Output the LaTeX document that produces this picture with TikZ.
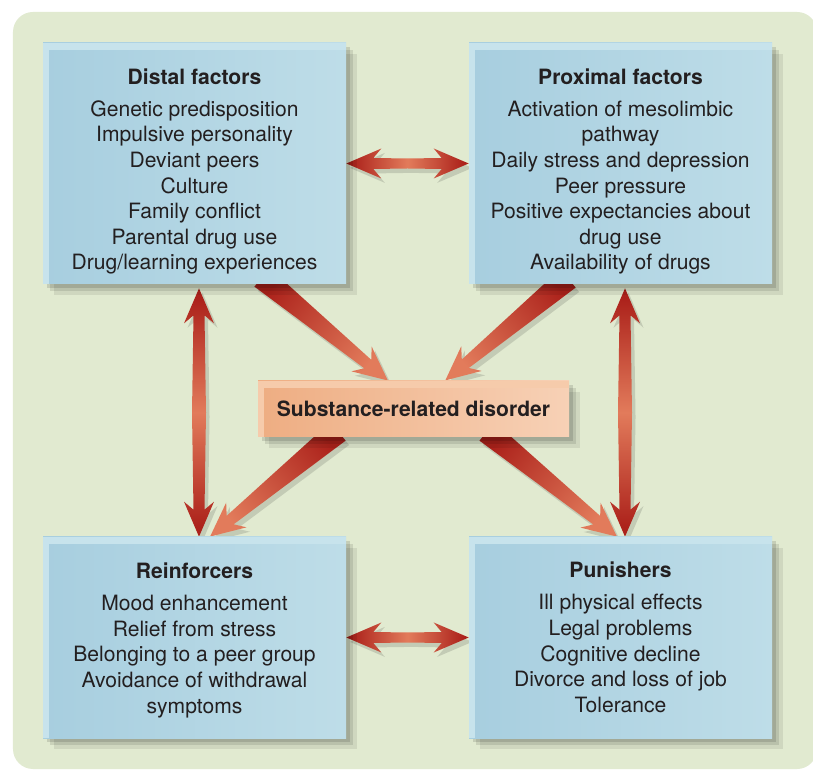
\documentclass[tikz,border=0pt]{standalone}
\usepackage{fontspec}
\setmainfont{TeX Gyre Heros}
\usepackage{tikz}
\usetikzlibrary{calc, shadows}

\definecolor{panelgreen}{HTML}{E1EAD0}
\definecolor{boxleft}{HTML}{A7CEDF}
\definecolor{boxright}{HTML}{BEDDE8}
\definecolor{boxrim}{HTML}{C7E3EC}
\definecolor{hubleft}{HTML}{EEAD82}
\definecolor{hubright}{HTML}{F7D1B6}
\definecolor{hubrim}{HTML}{F6CBAB}
\definecolor{arrdark}{HTML}{AC221B}
\definecolor{arrlight}{HTML}{E27B5B}
\definecolor{inkgray}{HTML}{231F20}

\pgfdeclarehorizontalshading{twoway}{100bp}{color(0bp)=(arrdark); color(27bp)=(arrdark); color(50bp)=(arrlight); color(73bp)=(arrdark); color(100bp)=(arrdark)}
\pgfdeclarehorizontalshading{oneway}{100bp}{color(0bp)=(arrdark); color(25bp)=(arrdark); color(75bp)=(arrlight); color(100bp)=(arrlight)}

\pgfdeclarelayer{backdrop}
\pgfdeclarelayer{background}
\pgfsetlayers{backdrop,background,main}

% angle, length (in 0.02cm units) and start point of a fat arrow
\newcommand{\measurearrow}[2]{%
  \path let \p1=(#1), \p2=(#2) in \pgfextra{%
    \pgfmathsetmacro{\tmpang}{atan2(\y2-\y1,\x2-\x1)}%
    \pgfmathsetmacro{\tmplen}{veclen(\x2-\x1,\y2-\y1)/0.569055}%
    \xdef\arrang{\tmpang}\xdef\arrlen{\tmplen}%
    \xdef\arrx{\x1}\xdef\arry{\y1}};%
}

% outlines in the arrow's own frame, x along the arrow
\newcommand{\onewayoutline}{%
  (0,-12) -- (\arrlen-26,-5.5) -- (\arrlen-34,-16) -- (\arrlen,0)
  -- (\arrlen-34,16) -- (\arrlen-26,5.5) -- (0,12) -- cycle}
\newcommand{\twowayoutline}[1]{%
  (0,0) -- (35,15) -- (27,5.5) -- (\arrlen/2,#1) -- (\arrlen-27,5.5)
  -- (\arrlen-35,15) -- (\arrlen,0) -- (\arrlen-35,-15) -- (\arrlen-27,-5.5)
  -- (\arrlen/2,-#1) -- (27,-5.5) -- (35,-15) -- cycle}

\newcommand{\onewayarrow}[2]{%
  \measurearrow{#1}{#2}%
  \begin{scope}[shift={(\arrx,\arry)}, shift={(2pt,-2.5pt)}, rotate=\arrang, x=0.02cm, y=0.02cm]
    \fill[black, opacity=0.13] \onewayoutline;
  \end{scope}
  \begin{scope}[shift={(\arrx,\arry)}, rotate=\arrang, x=0.02cm, y=0.02cm]
    \shade[shading=oneway, shading angle=\arrang] \onewayoutline;
  \end{scope}}

\newcommand{\twowayarrow}[3]{%
  \measurearrow{#1}{#2}%
  \begin{scope}[shift={(\arrx,\arry)}, shift={(2pt,-2.5pt)}, rotate=\arrang, x=0.02cm, y=0.02cm]
    \fill[black, opacity=0.13] \twowayoutline{#3};
  \end{scope}
  \begin{scope}[shift={(\arrx,\arry)}, rotate=\arrang, x=0.02cm, y=0.02cm]
    \shade[shading=twoway, shading angle=\arrang] \twowayoutline{#3};
  \end{scope}}

\begin{document}
\begin{tikzpicture}[
  softshadow/.style={
    drop shadow={shadow xshift=6pt, shadow yshift=-6pt, opacity=0.08, fill=black},
    drop shadow={shadow xshift=4pt, shadow yshift=-4pt, opacity=0.1, fill=black},
    drop shadow={shadow xshift=2pt, shadow yshift=-2pt, opacity=0.12, fill=black}},
  factorbox/.style={rectangle, left color=boxleft, right color=boxright, softshadow,
    minimum width=6.06cm, align=center, text=inkgray,
    font=\fontsize{12}{14.6}\selectfont,
    path picture={
      \fill[boxrim] (path picture bounding box.north west) rectangle ([yshift=-4pt]path picture bounding box.north east);
      \fill[boxrim] (path picture bounding box.north west) rectangle ([xshift=3.5pt]path picture bounding box.south west);}},
  hubbox/.style={rectangle, left color=hubleft, right color=hubright, softshadow,
    minimum width=6.22cm, minimum height=1.12cm, text=inkgray,
    font=\fontsize{12}{14.6}\selectfont\bfseries,
    path picture={
      \fill[hubrim] (path picture bounding box.north west) rectangle ([yshift=-4pt]path picture bounding box.north east);
      \fill[hubrim] (path picture bounding box.north west) rectangle ([xshift=3.5pt]path picture bounding box.south west);}}
]
  \useasboundingbox (0,0) rectangle (16.26,15.42);
  \begin{pgfonlayer}{backdrop}
    \fill[white] (0,0) rectangle (16.26,15.42);
    \fill[panelgreen, rounded corners=0.4cm] (0.26,0.04) rectangle (16.34,15.18);
  \end{pgfonlayer}

  \node[factorbox, minimum height=4.82cm] (distal) at (3.89,12.15) {\rule{0pt}{18pt}\textbf{Distal factors}\\[3.6pt]
    Genetic predisposition\\ Impulsive personality\\ Deviant peers\\ Culture\\
    Family conflict\\ Parental drug use\\ Drug/learning experiences};
  \node[factorbox, minimum height=4.82cm] (proximal) at (12.41,12.15) {\rule{0pt}{18pt}\textbf{Proximal factors}\\[3.6pt]
    Activation of mesolimbic\\ pathway\\ Daily stress and depression\\ Peer pressure\\
    Positive expectancies about\\ drug use\\ Availability of drugs};
  \node[factorbox, minimum height=4.02cm] (reinforcers) at (3.89,2.67) {\rule{0pt}{12pt}\textbf{Reinforcers}\\[3.6pt]
    Mood enhancement\\ Relief from stress\\ Belonging to a peer group\\
    Avoidance of withdrawal\\ symptoms};
  \node[factorbox, minimum height=4.02cm] (punishers) at (12.41,2.67) {\textbf{Punishers}\\[3.6pt]
    Ill physical effects\\ Legal problems\\ Cognitive decline\\
    Divorce and loss of job\\ Tolerance};
  \node[hubbox] (hub) at (8.27,7.24) {Substance-related disorder};

  \begin{pgfonlayer}{background}
    \twowayarrow{distal.east}{proximal.west}{5}
    \twowayarrow{reinforcers.east}{punishers.west}{5}
    \twowayarrow{[shift={(0.09,-0.08)}]distal.south}{[xshift=0.09cm]reinforcers.north}{7}
    \twowayarrow{[shift={(0.09,-0.08)}]proximal.south}{[xshift=0.09cm]punishers.north}{7}
    \onewayarrow{[shift={(1.35,0.14)}]distal.south}{[xshift=-0.51cm]hub.north}
    \onewayarrow{[shift={(-1.05,0.12)}]proximal.south}{[xshift=0.63cm]hub.north}
    \onewayarrow{[shift={(-1.51,0.12)}]hub.south}{[xshift=0.31cm]reinforcers.north}
    \onewayarrow{[shift={(1.47,0.12)}]hub.south}{[xshift=-0.07cm]punishers.north}
  \end{pgfonlayer}
\end{tikzpicture}
\end{document}
